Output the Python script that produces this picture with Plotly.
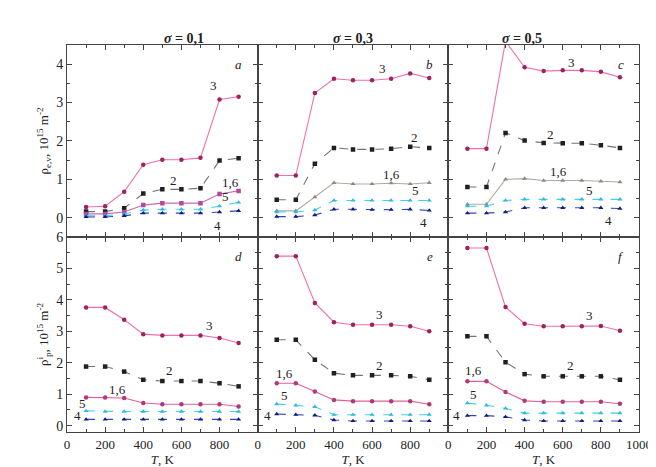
import plotly.graph_objects as go

T = [100, 200, 300, 400, 500, 600, 700, 800, 900]

# top row: rho_ev ; panels a, b, c
a_3 = [0.28, 0.30, 0.68, 1.38, 1.51, 1.51, 1.56, 3.08, 3.15]
a_2 = [0.16, 0.16, 0.25, 0.63, 0.74, 0.74, 0.77, 1.49, 1.55]
a_16 = [0.10, 0.10, 0.15, 0.33, 0.38, 0.38, 0.38, 0.62, 0.70]
a_5 = [0.05, 0.05, 0.10, 0.20, 0.22, 0.22, 0.22, 0.30, 0.40]
a_4 = [0.02, 0.02, 0.05, 0.12, 0.12, 0.12, 0.12, 0.15, 0.18]

b_3 = [1.10, 1.10, 3.25, 3.62, 3.58, 3.58, 3.62, 3.76, 3.64]
b_2 = [0.47, 0.47, 1.41, 1.82, 1.78, 1.78, 1.80, 1.85, 1.82]
b_16 = [0.18, 0.18, 0.54, 0.91, 0.88, 0.88, 0.90, 0.88, 0.91]
b_5 = [0.15, 0.15, 0.20, 0.45, 0.45, 0.45, 0.45, 0.45, 0.45]
b_4 = [0.03, 0.03, 0.07, 0.22, 0.22, 0.21, 0.21, 0.22, 0.19]

c_3 = [1.80, 1.80, 4.60, 3.92, 3.82, 3.84, 3.84, 3.80, 3.66]
c_2 = [0.80, 0.80, 2.21, 2.01, 1.95, 1.94, 1.94, 1.89, 1.82]
c_16 = [0.35, 0.35, 1.00, 1.02, 0.97, 0.97, 0.97, 0.95, 0.93]
c_5 = [0.30, 0.30, 0.45, 0.48, 0.48, 0.48, 0.48, 0.48, 0.48]
c_4 = [0.12, 0.12, 0.15, 0.26, 0.26, 0.26, 0.26, 0.26, 0.24]

# bottom row: rho_p ; panels d, e, f
d_3 = [3.76, 3.76, 3.37, 2.91, 2.87, 2.87, 2.87, 2.79, 2.63]
d_2 = [1.88, 1.88, 1.72, 1.46, 1.42, 1.42, 1.42, 1.35, 1.25]
d_16 = [0.90, 0.90, 0.88, 0.72, 0.68, 0.68, 0.68, 0.68, 0.61]
d_5 = [0.47, 0.45, 0.45, 0.45, 0.45, 0.45, 0.45, 0.45, 0.45]
d_4 = [0.20, 0.20, 0.20, 0.20, 0.20, 0.20, 0.20, 0.20, 0.20]

e_3 = [5.39, 5.39, 3.90, 3.29, 3.21, 3.21, 3.21, 3.16, 3.00]
e_2 = [2.73, 2.73, 2.10, 1.67, 1.60, 1.60, 1.60, 1.57, 1.46]
e_16 = [1.35, 1.35, 1.09, 0.82, 0.78, 0.78, 0.78, 0.78, 0.68]
e_5 = [0.69, 0.65, 0.60, 0.35, 0.35, 0.35, 0.35, 0.35, 0.35]
e_4 = [0.37, 0.35, 0.33, 0.18, 0.15, 0.15, 0.15, 0.15, 0.15]

f_3 = [5.65, 5.65, 3.77, 3.24, 3.16, 3.16, 3.16, 3.17, 3.02]
f_2 = [2.84, 2.84, 2.02, 1.64, 1.57, 1.57, 1.57, 1.57, 1.46]
f_16 = [1.41, 1.41, 1.07, 0.79, 0.76, 0.76, 0.76, 0.76, 0.70]
f_5 = [0.72, 0.65, 0.55, 0.40, 0.40, 0.40, 0.40, 0.40, 0.40]
f_4 = [0.32, 0.32, 0.28, 0.18, 0.15, 0.15, 0.15, 0.15, 0.15]

col_titles = ["0,1", "0,3", "0,5"]
panel_letters = ["a", "b", "c", "d", "e", "f"]
x_tick_vals = [0, 200, 400, 600, 800, 1000]
top_y_ticks = [0, 1, 2, 3, 4]
bot_y_ticks = [0, 1, 2, 3, 4, 5, 6]

panels = [
    (a_3, a_2, a_16, a_5, a_4),
    (b_3, b_2, b_16, b_5, b_4),
    (c_3, c_2, c_16, c_5, c_4),
    (d_3, d_2, d_16, d_5, d_4),
    (e_3, e_2, e_16, e_5, e_4),
    (f_3, f_2, f_16, f_5, f_4),
]

# curve label positions (T, value) for labels "3", "2", "1,6", "5", "4"
label_names = ["3", "2", "1,6", "5", "4"]
label_pos = [
    [(770, 3.45), (560, 0.98), (860, 0.92), (830, 0.55), (790, -0.2)],
    [(655, 3.88), (825, 2.08), (700, 1.12), (830, 0.70), (870, -0.12)],
    [(645, 4.05), (535, 2.18), (580, 1.21), (740, 0.72), (840, -0.08)],
    [(745, 3.18), (540, 1.75), (265, 1.15), (80, 0.70), (55, 0.34)],
    [(640, 3.55), (640, 1.90), (140, 1.65), (140, 0.95), (52, 0.32)],
    [(740, 3.50), (640, 1.92), (130, 1.75), (130, 1.00), (45, 0.34)],
]

x_dom = [(0.0, 1 / 3), (1 / 3, 2 / 3), (2 / 3, 1.0)]
y_dom_top = (0.504, 1.0)
y_dom_bot = (0.0, 0.504)

fig = go.Figure()
font_serif = "Liberation Serif"
txt = "#222"

for i, data in enumerate(panels):
    row = i // 3
    col = i % 3
    idx = i + 1
    xa = "x" if idx == 1 else f"x{idx}"
    ya = "y" if idx == 1 else f"y{idx}"
    s3, s2, s16, s5, s4 = data
    if row == 0:
        c16_line, c16_mark, sym16 = ("#c86ab8", "#b04aa0", "square") if col == 0 else ("#a8b0a0", "#8a8a8a", "triangle-up")
    else:
        c16_line, c16_mark, sym16 = ("#e2609c", "#b03a78", "circle")
    series = [
        (s3, "#f070a8", "#a02060", "circle", "solid"),
        (s2, "#707080", "#202020", "square", "dash"),
        (s16, c16_line, c16_mark, sym16, "solid"),
        (s5, "#40d0f0", "#30b8e0", "triangle-up", "dash"),
        (s4, "#3048b0", "#101c80", "triangle-up", "dash"),
    ]
    for vals, lc, mc, sym, dash in series:
        fig.add_trace(go.Scatter(
            x=T, y=vals, xaxis=xa, yaxis=ya, mode="lines+markers",
            line=dict(color=lc, width=1.1, dash=dash),
            marker=dict(color=mc, size=4.5, symbol=sym),
            showlegend=False))
    for name, (lx, ly) in zip(label_names, label_pos[i]):
        fig.add_annotation(x=lx, y=ly, xref=xa, yref=ya, text=name, showarrow=False,
                           font=dict(family=font_serif, size=13, color=txt))
    fig.add_annotation(x=0.93, y=0.95, xref=f"{xa} domain", yref=f"{ya} domain",
                       text=f"<i>{panel_letters[i]}</i>", showarrow=False,
                       font=dict(family=font_serif, size=13, color=txt))

    xkey = "xaxis" if idx == 1 else f"xaxis{idx}"
    ykey = "yaxis" if idx == 1 else f"yaxis{idx}"
    xdict = dict(
        domain=list(x_dom[col]), anchor=ya, range=[0, 1000],
        tickvals=(x_tick_vals if col == 2 else x_tick_vals[:-1]) if row == 1 else x_tick_vals,
        showticklabels=(row == 1), ticks="inside", ticklen=5,
        minor=dict(ticks="inside", ticklen=3, dtick=100, tick0=0),
        showline=True, linecolor="#444", linewidth=1, mirror="allticks",
        showgrid=False, zeroline=False,
        tickfont=dict(family=font_serif, size=13, color=txt),
    )
    if row == 1:
        xdict["title"] = dict(text="<i>T</i>, K", font=dict(family=font_serif, size=13, color=txt), standoff=2)
    fig.update_layout(**{xkey: xdict})
    if row == 0:
        yr, ytv, ydom = [-0.5, 4.5], top_y_ticks, y_dom_top
        ytitle = "ρ<sub>e,v</sub>, 10<sup>15</sup> m<sup>-2</sup>"
    else:
        yr, ytv, ydom = [-0.2, 6], bot_y_ticks, y_dom_bot
        ytitle = "ρ<sup>i</sup><sub>p</sub>, 10<sup>15</sup> m<sup>-2</sup>"
    ydict = dict(
        domain=list(ydom), anchor=xa, range=yr,
        tickvals=ytv, showticklabels=(col == 0), ticks="inside", ticklen=5,
        minor=dict(ticks="inside", ticklen=3, dtick=0.5, tick0=0),
        showline=True, linecolor="#444", linewidth=1, mirror="allticks",
        showgrid=False, zeroline=False,
        tickfont=dict(family=font_serif, size=14, color=txt),
    )
    if col == 0:
        ydict["title"] = dict(text=ytitle, font=dict(family=font_serif, size=13, color=txt), standoff=4)
    fig.update_layout(**{ykey: ydict})

for col, title in enumerate(col_titles):
    fig.add_annotation(x=(x_dom[col][0] + x_dom[col][1]) / 2, y=1.0, xref="paper", yref="paper",
                       yshift=16, text=f"<b><i>σ</i> = {title}</b>", showarrow=False,
                       font=dict(family=font_serif, size=14, color=txt))

fig.update_layout(
    width=656, height=467,
    margin=dict(l=59, r=15, t=37, b=43),
    paper_bgcolor="white", plot_bgcolor="white",
)

fig.write_html("out.html")
